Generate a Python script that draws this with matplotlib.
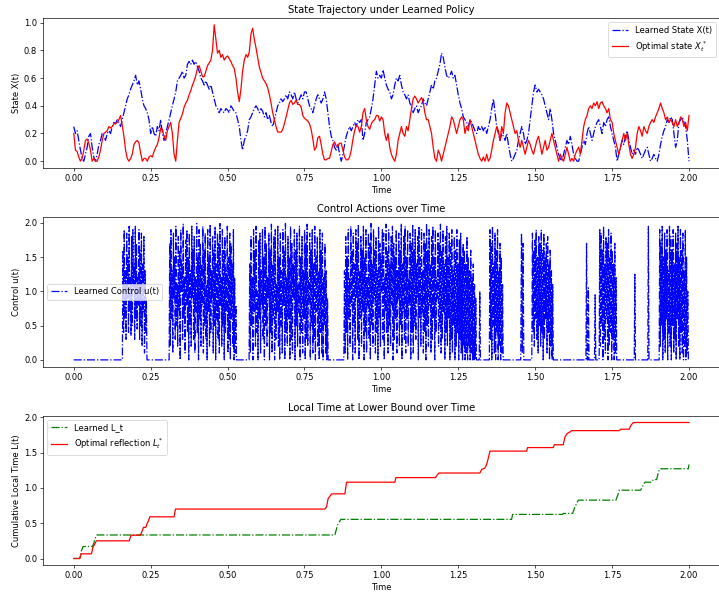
import numpy as np
import matplotlib
matplotlib.use("Agg")
import matplotlib.pyplot as plt

# ---------------- data ----------------
x_learned = [
0.25,0.2,0.22,0.15,0.08,0.02,0.0,0.05,0.1,0.18,
0.2,0.1,0.03,0.0,0.05,0.12,0.15,0.2,0.18,0.15,
0.2,0.22,0.2,0.25,0.28,0.27,0.3,0.28,0.25,0.3,
0.35,0.4,0.45,0.48,0.52,0.55,0.58,0.62,0.55,0.58,
0.52,0.45,0.4,0.38,0.35,0.3,0.2,0.25,0.2,0.18,
0.25,0.22,0.3,0.2,0.15,0.2,0.25,0.3,0.35,0.4,
0.45,0.5,0.58,0.6,0.62,0.65,0.6,0.62,0.7,0.72,
0.7,0.73,0.7,0.72,0.68,0.65,0.6,0.58,0.55,0.58,
0.55,0.52,0.55,0.5,0.45,0.4,0.38,0.35,0.38,0.36,
0.35,0.38,0.37,0.35,0.4,0.38,0.36,0.35,0.3,0.25,
0.15,0.08,0.15,0.18,0.22,0.3,0.32,0.35,0.38,0.4,
0.38,0.35,0.38,0.36,0.32,0.35,0.3,0.33,0.28,0.25,
0.3,0.35,0.4,0.42,0.45,0.43,0.45,0.48,0.45,0.5,
0.48,0.45,0.5,0.45,0.42,0.45,0.48,0.45,0.5,0.5,
0.45,0.4,0.38,0.35,0.4,0.45,0.48,0.45,0.42,0.45,
0.5,0.45,0.35,0.25,0.18,0.15,0.1,0.08,0.12,0.05,
0.0,0.05,0.12,0.18,0.22,0.25,0.22,0.25,0.28,0.25,
0.3,0.28,0.3,0.15,0.2,0.28,0.3,0.32,0.38,0.45,
0.55,0.65,0.6,0.62,
0.6,0.66,0.6,0.55,0.52,0.5,0.45,0.48,0.55,0.6,
0.58,0.62,0.55,0.5,0.48,0.45,0.48,0.42,0.4,0.35,
0.38,0.4,0.35,0.38,0.4,0.45,0.42,0.4,0.45,0.5,
0.55,0.52,0.58,0.6,0.65,0.7,0.78,0.75,0.68,0.62,
0.6,0.62,0.65,0.6,0.62,0.55,0.48,0.42,0.38,0.32,
0.3,0.28,0.25,0.3,0.28,0.25,0.22,0.2,0.25,0.22,
0.25,0.22,0.25,0.2,0.25,0.3,0.38,0.45,0.35,0.25,
0.2,0.15,0.2,0.18,0.15,0.2,0.12,0.05,0.0,0.02,
0.05,0.08,0.15,0.2,0.25,0.2,0.12,0.15,0.2,0.3,
0.4,0.5,0.55,0.5,0.52,0.5,0.48,0.45,0.4,0.35,
0.3,0.38,0.3,0.2,0.15,0.1,0.05,0.02,0.0,0.05,
0.1,0.15,0.12,0.18,0.12,0.05,0.02,0.0,0.0,0.05,
0.1,0.15,0.12,0.2,0.25,0.2,0.15,0.2,0.25,0.28,
0.3,0.25,0.2,0.28,0.25,0.3,0.32,0.25,0.2,0.15,
0.1,0.0,0.05,0.1,0.15,0.12,0.18,0.22,0.15,0.1,
0.05,0.08,0.05,0.1,0.08,0.05,0.02,0.05,0.08,0.1,
0.05,0.0,0.02,0.05,0.02,0.0,0.05,0.12,0.18,0.22,
0.25,0.3,0.28,0.32,0.3,0.2,0.1,0.15,0.28,0.3,
0.32,0.28,0.25,0.15,0.0]

x_optimal = [
0.2,0.08,0.07,0.03,0.0,0.02,0.08,0.15,0.16,0.13,
0.08,0.0,0.02,0.0,0.0,0.03,0.08,0.15,0.2,0.21,
0.22,0.25,0.24,0.25,0.27,0.27,0.28,0.3,0.33,0.26,
0.18,0.08,0.02,0.0,0.02,0.05,0.12,0.14,0.15,0.13,
0.06,0.0,0.02,0.02,0.0,0.03,0.04,0.03,0.07,0.1,
0.12,0.17,0.24,0.23,0.18,0.15,0.22,0.25,0.28,0.2,
0.05,0.0,0.15,0.28,0.31,0.34,0.39,0.42,0.44,0.48,
0.51,0.55,0.58,0.62,0.67,0.69,0.65,0.61,0.61,0.65,
0.69,0.71,0.73,0.8,0.985,0.88,0.78,0.8,0.75,0.77,
0.73,0.75,0.76,0.74,0.72,0.69,0.67,0.6,0.5,0.43,
0.52,0.65,0.73,0.77,0.75,0.79,0.92,0.96,0.88,0.82,
0.75,0.68,0.64,0.6,0.58,0.56,0.53,0.48,0.42,0.35,
0.3,0.25,0.21,0.21,0.21,0.23,0.27,0.32,0.37,0.42,
0.44,0.41,0.42,0.44,0.41,0.41,0.39,0.33,0.31,0.3,
0.29,0.27,0.23,0.16,0.08,0.1,0.17,0.18,0.12,0.05,
0.01,0.01,0.02,0.02,0.07,0.12,0.14,0.11,0.11,0.13,
0.13,0.08,0.03,0.01,0.01,0.03,0.08,0.16,0.22,0.26,
0.25,0.21,0.25,0.35,0.38,0.3,0.25,0.23,0.27,0.29,
0.3,0.33,0.33,0.29,
0.32,0.3,0.2,0.15,0.2,0.1,0.05,0.02,0.0,0.05,
0.15,0.2,0.25,0.2,0.18,0.25,0.22,0.3,0.38,0.45,
0.47,0.45,0.42,0.44,0.46,0.43,0.35,0.3,0.3,0.25,
0.2,0.1,0.02,0.0,0.08,0.05,0.0,0.05,0.1,0.15,
0.2,0.25,0.32,0.3,0.25,0.2,0.25,0.3,0.32,0.3,
0.2,0.25,0.22,0.3,0.25,0.2,0.15,0.1,0.05,0.02,
0.0,0.03,0.0,0.05,0.0,0.02,0.08,0.15,0.2,0.25,
0.22,0.15,0.25,0.2,0.35,0.42,0.4,0.35,0.3,0.25,
0.2,0.22,0.15,0.1,0.15,0.1,0.05,0.1,0.15,0.12,
0.08,0.05,0.1,0.15,0.18,0.12,0.05,0.1,0.15,0.08,
0.1,0.15,0.2,0.15,0.1,0.05,0.0,0.05,0.02,0.0,
0.05,0.1,0.05,0.0,0.02,0.0,0.05,0.08,0.1,0.05,
0.15,0.25,0.3,0.33,0.38,0.4,0.38,0.42,0.4,0.43,
0.38,0.42,0.43,0.4,0.38,0.35,0.38,0.3,0.28,0.2,
0.15,0.1,0.05,0.1,0.15,0.2,0.15,0.2,0.12,0.05,
0.02,0.05,0.1,0.2,0.25,0.22,0.18,0.25,0.22,0.2,
0.25,0.28,0.3,0.28,0.32,0.35,0.38,0.42,0.38,0.35,
0.3,0.32,0.28,0.3,0.28,0.25,0.3,0.25,0.28,0.32,
0.3,0.25,0.28,0.22,0.33]

t_state = np.linspace(0.0, 2.0, len(x_learned))

# control: active bursts (time windows) and their values; zero elsewhere
u_windows = [(0.158, 0.238), (0.31, 0.529), (0.570, 0.827), (0.878, 1.309),
             (1.318, 1.322), (1.351, 1.396), (1.453, 1.463), (1.489, 1.559),
             (1.665, 1.669), (1.671, 1.675), (1.693, 1.697), (1.708, 1.765),
             (1.822, 1.826), (1.866, 1.870), (1.903, 1.998)]
u_b1 = [0.0, 1.6, 0.4, 1.9, 0.6, 1.3, 0.3, 1.85, 0.9, 1.5, 0.4, 1.95, 0.7, 1.2, 0.35, 1.8,
        0.5, 1.9, 1.0, 1.4, 0.3, 1.95, 0.6, 1.7, 0.45, 1.2, 0.8, 1.9, 0.3, 1.6, 0.5, 1.85,
        0.2, 1.4, 0.7, 1.8, 0.1, 1.3, 0.4, 0.9, 0.0]
u_b2 = [0.0, 1.7, 0.2, 1.9, 0.6, 1.3, 0.1, 1.85, 0.9, 1.5, 0.3, 1.95, 0.5, 1.1, 0.2, 1.8,
        0.7, 1.6, 0.0, 1.9, 1.0, 1.4, 0.3, 1.98, 0.6, 1.2, 0.1, 1.75, 0.8, 1.9, 0.4, 1.5,
        0.0, 1.85, 0.5, 1.3, 0.2, 1.95, 0.9, 1.6, 0.3, 1.8, 0.1, 1.2, 0.7, 1.99, 0.4, 1.5,
        0.0, 1.9, 0.6, 1.7, 0.2, 1.4, 0.8, 1.95, 0.1, 1.6, 0.5, 1.85, 0.3, 1.1, 0.0, 1.9,
        0.7, 1.5, 0.2, 1.98, 0.4, 1.3, 0.9, 1.8, 0.1, 1.6, 0.5, 1.95, 0.0, 1.4, 0.6, 1.85,
        0.3, 1.7, 0.1, 1.99, 0.8, 1.2, 0.2, 1.9, 0.5, 1.6, 0.0, 1.8, 0.4, 1.3, 0.7, 1.95,
        0.1, 1.5, 0.3, 1.85, 0.0, 1.7, 0.6, 1.4, 0.2, 1.9, 0.0, 1.2, 0.1, 0.8, 0.0]
u_b3 = [0.0, 1.4, 0.1, 1.8, 0.5, 1.2, 0.0, 1.9, 0.7, 1.6, 0.2, 1.95, 0.4, 1.0, 0.0, 1.75,
        0.6, 1.85, 0.1, 1.3, 0.8, 1.9, 0.3, 1.5, 0.0, 1.95, 0.5, 1.7, 0.2, 1.2, 0.9, 1.85,
        0.0, 1.6, 0.4, 1.98, 0.1, 1.4, 0.6, 1.8, 0.0, 1.9, 0.3, 1.1, 0.7, 1.95, 0.2, 1.5,
        0.0, 1.85, 0.5, 1.3, 0.1, 1.9, 0.8, 1.6, 0.0, 1.99, 0.4, 1.2, 0.2, 1.8, 0.6, 1.5,
        0.0, 1.95, 0.3, 1.7, 0.1, 1.4, 0.9, 1.9, 0.0, 1.6, 0.5, 1.85, 0.2, 1.1, 0.7, 1.95,
        0.0, 1.5, 0.4, 1.8, 0.1, 1.3, 0.6, 1.9, 0.0, 1.7, 0.3, 1.98, 0.2, 1.2, 0.8, 1.85,
        0.0, 1.6, 0.5, 1.9, 0.1, 1.4, 0.3, 1.95, 0.0, 1.5, 0.7, 1.8, 0.2, 1.3, 0.0, 1.9,
        0.4, 1.6, 0.1, 1.85, 0.0, 1.2, 0.5, 1.7, 0.1, 1.3, 0.0, 0.9, 0.0]
u_b4 = [0.0, 1.3, 0.1, 1.8, 0.4, 1.5, 0.0, 1.9, 0.6, 1.2, 0.2, 1.95, 0.8, 1.6, 0.0, 1.85,
        0.5, 1.4, 0.1, 1.9, 0.9, 1.7, 0.3, 1.98, 0.0, 1.3, 0.6, 1.8, 0.2, 1.6, 0.7, 1.95,
        0.0, 1.5, 0.4, 1.9, 0.1, 1.2, 0.8, 1.85, 0.3, 1.7, 0.0, 1.99, 0.5, 1.4, 0.2, 1.9,
        0.9, 1.6, 0.1, 1.8, 0.4, 1.3, 0.0, 1.95, 0.6, 1.7, 0.2, 1.5, 1.0, 1.9, 0.3, 1.85,
        0.0, 1.2, 0.7, 1.98, 0.4, 1.6, 0.1, 1.9, 0.5, 1.4, 0.2, 1.8, 0.8, 1.95, 0.0, 1.7,
        0.3, 1.5, 0.6, 1.9, 0.1, 1.3, 0.9, 1.85, 0.2, 1.6, 0.5, 1.99, 0.0, 1.4, 0.7, 1.8,
        0.3, 1.95, 0.1, 1.5, 0.6, 1.9, 0.2, 1.2, 0.8, 1.85, 0.0, 1.7, 0.4, 1.98, 0.1, 1.6,
        0.5, 1.9, 0.3, 1.4, 0.9, 1.8, 0.0, 1.95, 0.6, 1.5, 0.2, 1.9, 0.7, 1.3, 0.1, 1.85,
        0.4, 1.7, 0.0, 1.99, 0.5, 1.6, 0.2, 1.9, 0.8, 1.4, 0.1, 1.8, 0.3, 1.95, 0.6, 1.5,
        0.0, 1.9, 0.4, 1.2, 0.9, 1.85, 0.2, 1.7, 0.5, 1.98, 0.1, 1.6, 0.3, 1.9, 0.7, 1.4,
        0.0, 1.8, 0.4, 1.95, 0.2, 1.5, 0.6, 1.85, 0.0, 1.7, 0.3, 1.9, 0.1, 1.3, 0.5, 1.8,
        0.0, 1.6, 0.2, 1.9, 0.4, 1.4, 0.0, 1.75, 0.3, 1.85, 0.1, 1.5, 0.0, 1.7, 0.2, 1.6,
        0.0, 1.4, 0.1, 1.8, 0.0, 1.5, 0.2, 1.3, 0.0, 1.6, 0.1, 1.2, 0.0, 1.4, 0.0, 1.1,
        0.0, 0.9, 0.0]
u_b5 = [0.0, 1.0, 0.0]
u_b6 = [0.0, 1.9, 0.3, 1.7, 0.0, 1.95, 0.5, 1.4, 0.1, 1.85, 0.0, 1.6, 0.4, 1.9, 0.0, 1.3,
        0.2, 1.7, 0.0, 1.5, 0.1, 1.1, 0.0]
u_b7 = [0.0, 1.85, 0.1, 1.7, 0.0]
u_b8 = [0.0, 1.85, 0.4, 1.6, 0.2, 1.75, 0.6, 1.9, 0.3, 1.5, 0.1, 1.8, 0.5, 1.7, 0.2, 1.9,
        0.4, 1.6, 0.0, 1.85, 0.3, 1.5, 0.6, 1.7, 0.1, 1.8, 0.4, 1.4, 0.0, 1.6, 0.2, 1.3,
        0.0, 1.1, 0.0]
u_b9 = [0.0, 1.7, 0.0]
u_b10 = [0.0, 1.05, 0.0]
u_b11 = [0.0, 0.95, 0.0]
u_b12 = [0.0, 1.9, 0.2, 1.85, 0.5, 1.6, 0.0, 1.95, 0.3, 1.4, 0.1, 1.8, 0.6, 1.7, 0.0, 1.9,
         0.2, 1.5, 0.4, 1.85, 0.0, 1.6, 0.3, 1.4, 0.0, 1.7, 0.1, 1.2, 0.0]
u_b13 = [0.0, 1.25, 0.0]
u_b14 = [0.0, 1.95, 0.0]
u_b15 = [0.0, 1.9, 0.2, 1.7, 0.5, 1.95, 0.0, 1.5, 0.3, 1.85, 0.1, 1.6, 0.6, 1.9, 0.0, 1.3,
         0.4, 1.95, 0.2, 1.8, 0.0, 1.6, 0.5, 1.9, 0.1, 1.4, 0.3, 1.85, 0.0, 1.7, 0.6, 1.95,
         0.2, 1.5, 0.0, 1.9, 0.4, 1.6, 0.1, 1.85, 0.0, 1.3, 0.2, 1.9, 0.0, 1.5, 0.1, 1.0, 0.0]
u_bursts = [u_b1, u_b2, u_b3, u_b4, u_b5, u_b6, u_b7, u_b8, u_b9, u_b10, u_b11,
            u_b12, u_b13, u_b14, u_b15]

# local time (cumulative) breakpoints
L_learned_t = [0.0, 0.0195, 0.0249, 0.0304, 0.0607, 0.065, 0.0715, 0.0759, 0.8488, 0.8575,
               0.8683, 1.4233, 1.4266, 1.5892, 1.5913, 1.6217, 1.6293, 1.6401, 1.7626,
               1.7702, 1.7734, 1.8428, 1.8515, 1.8569, 1.8786, 1.884, 1.8949, 1.9003,
               1.9057, 1.9978, 2.0]
L_learned = [0.0, 0.0, 0.11, 0.17, 0.17, 0.216, 0.31, 0.333, 0.333, 0.474,
             0.554, 0.554, 0.624, 0.624, 0.638, 0.638, 0.73, 0.826, 0.826,
             0.92, 0.967, 0.967, 1.037, 1.08, 1.08, 1.117, 1.117, 1.22,
             1.27, 1.27, 1.33]
L_opt_t = [0.0, 0.0195, 0.0238, 0.0575, 0.0625, 0.0737, 0.18, 0.1865, 0.2168, 0.2233,
           0.2265, 0.2341, 0.2385, 0.2417, 0.2472, 0.3263, 0.3306, 0.8163, 0.8217,
           0.8271, 0.8325, 0.838, 0.8813, 0.8867, 1.0439, 1.0472, 1.1762, 1.1794,
           1.187, 1.3203, 1.3257, 1.3366, 1.342, 1.3453, 1.353, 1.4721, 1.4753,
           1.5588, 1.562, 1.5913, 1.5967, 1.6043, 1.613, 1.6184, 1.7734, 1.7778,
           1.806, 1.8103, 1.819, 2.0]
L_opt = [0.0, 0.0, 0.066, 0.066, 0.16, 0.25, 0.25, 0.33, 0.33, 0.40,
         0.44, 0.44, 0.50, 0.52, 0.59, 0.59, 0.70, 0.70, 0.73,
         0.85, 0.88, 0.915, 0.915, 1.08, 1.08, 1.145, 1.145, 1.17,
         1.21, 1.21, 1.26, 1.28, 1.33, 1.38, 1.52, 1.52, 1.57,
         1.57, 1.61, 1.61, 1.72, 1.77, 1.79, 1.81, 1.81, 1.83,
         1.83, 1.88, 1.925, 1.925]

# ---------------- build control series ----------------
t_u = [0.0]
u_vals = [0.0]
for (a, b), vals in zip(u_windows, u_bursts):
    t_u.extend(np.linspace(a, b, len(vals)))
    u_vals.extend(vals)
t_u.append(2.0)
u_vals.append(0.0)

# ---------------- figure ----------------
W, H = 719, 595
fig = plt.figure(figsize=(W / 60, H / 60), dpi=60)

left = 43 / W
width = 676.75 / W
ax1 = fig.add_axes([left, 1 - 168 / H, width, 150 / H])
ax2 = fig.add_axes([left, 1 - 366.7 / H, width, 150 / H])
ax3 = fig.add_axes([left, 1 - 565.3 / H, width, 149.6 / H])

ax1.plot(t_state, x_learned, '-.', color='blue', label='Learned State X(t)')
ax1.plot(t_state, x_optimal, '-', color='red', label='Optimal state $X_t^*$')
ax1.set_title('State Trajectory under Learned Policy')
ax1.set_xlabel('Time')
ax1.set_ylabel('State X(t)')
ax1.legend(loc='upper right')

ax2.plot(t_u, u_vals, '-.', color='blue', label='Learned Control u(t)')
ax2.set_title('Control Actions over Time')
ax2.set_xlabel('Time')
ax2.set_ylabel('Control u(t)')
ax2.legend(loc='center left')

ax3.plot(L_learned_t, L_learned, '-.', color='green', label='Learned L_t')
ax3.plot(L_opt_t, L_opt, '-', color='red', label='Optimal reflection $L_t^*$')
ax3.set_title('Local Time at Lower Bound over Time')
ax3.set_xlabel('Time')
ax3.set_ylabel('Cumulative Local Time L(t)')
ax3.legend(loc='upper left')

for ax in (ax1, ax2, ax3):
    ax.set_xticks([0.0, 0.25, 0.5, 0.75, 1.0, 1.25, 1.5, 1.75, 2.0])

fig.savefig('out.png', dpi=60)
